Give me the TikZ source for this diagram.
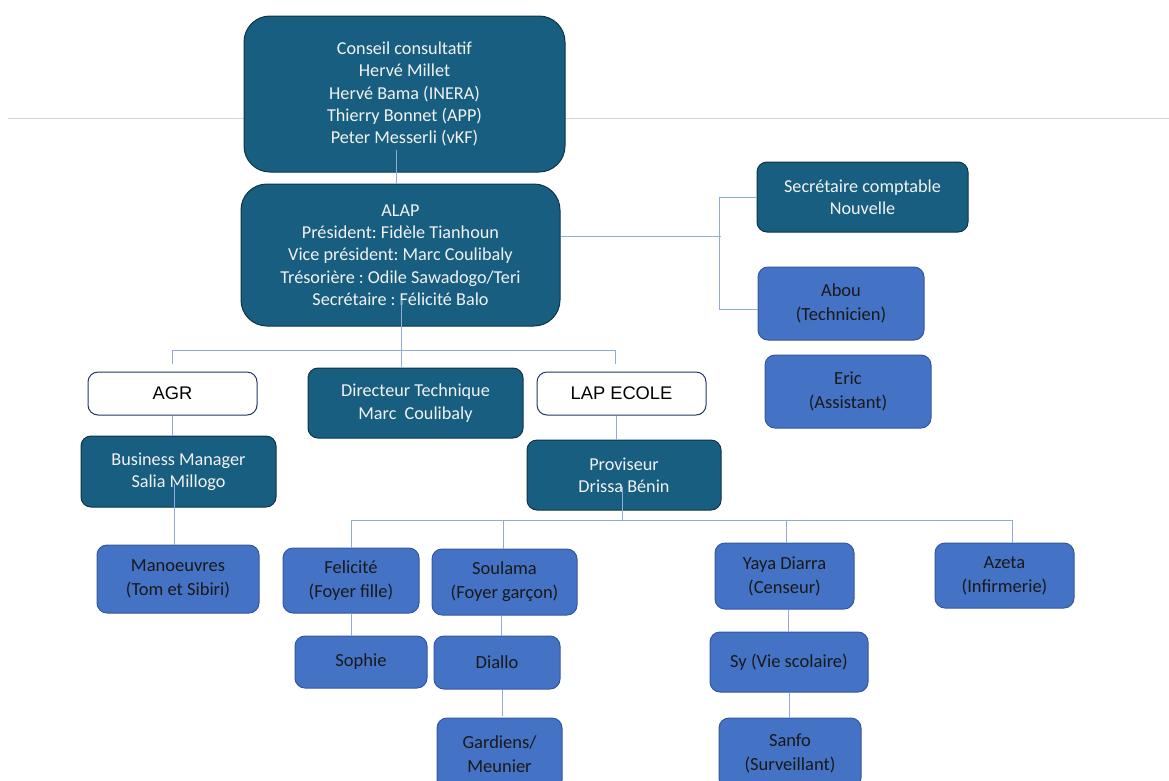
\documentclass[tikz,border=0pt]{standalone}
\usepackage{fontspec}
\setmainfont{Carlito}
\newfontfamily\arialf{Liberation Sans}
\frenchspacing
\definecolor{teal}{RGB}{23,94,128}
\definecolor{tealedge}{RGB}{16,52,70}
\definecolor{bluefill}{RGB}{68,114,196}
\definecolor{blueedge}{RGB}{52,88,160}
\definecolor{connc}{RGB}{143,170,220}
\definecolor{greyline}{RGB}{212,212,212}
\definecolor{whitetxt}{RGB}{242,242,242}
\definecolor{navyedge}{RGB}{32,56,100}
\tikzset{
  box/.style={rectangle, rounded corners=10pt, align=center, inner sep=0pt, line width=1pt},
  darkbox/.style={box, fill=teal, draw=tealedge, text=whitetxt, font=\fontsize{18.2}{22.3}\selectfont},
  bluebox/.style={box, fill=bluefill, draw=blueedge, text=black!90, font=\fontsize{18.5}{24}\selectfont},
  whitebox/.style={box, fill=white, draw=navyedge, text=black, font=\arialf\fontsize{18.3}{20}\selectfont},
  conn/.style={draw=connc, line width=0.9pt},
}
\begin{document}
\begin{tikzpicture}[x=1pt,y=1pt]
\clip (0,0) rectangle (1169,-780);
\fill[white] (0,0) rectangle (1169,-780);
\draw[greyline, line width=1pt] (8,-118) -- (1169,-118);

% nodes
\node[darkbox, rounded corners=26pt, minimum width=321pt, minimum height=156pt] (conseil) at (404.5,-94)
  {Conseil consultatif\\Hervé Millet\\Hervé Bama (INERA)\\Thierry Bonnet (APP)\\Peter Messerli (vKF)};
\node[darkbox, rounded corners=26pt, minimum width=319pt, minimum height=142pt] (alap) at (400.5,-255)
  {ALAP\\Président: Fidèle Tianhoun\\Vice président: Marc Coulibaly\\Trésorière : Odile Sawadogo/Teri\\Secrétaire : Félicité Balo};
\node[darkbox, minimum width=211pt, minimum height=70pt] (secr) at (862.5,-197)
  {Secrétaire comptable\\Nouvelle};
\node[bluebox, minimum width=166pt, minimum height=73pt] (abou) at (841,-303.5)
  {Abou\\(Technicien)};
\node[bluebox, minimum width=166pt, minimum height=73pt] (eric) at (848,-391.5)
  {Eric\\(Assistant)};
\node[whitebox, minimum width=169pt, minimum height=43pt] (agr) at (172.5,-393.5) {AGR};
\node[darkbox, minimum width=215pt, minimum height=70pt] (dir) at (415.5,-403)
  {Directeur Technique\\Marc~~Coulibaly};
\node[whitebox, minimum width=169pt, minimum height=43pt] (lap) at (621.5,-393.5) {LAP ECOLE};
\node[darkbox, minimum width=195pt, minimum height=71pt] (bm) at (178.5,-471.5)
  {Business Manager\\Salia Millogo};
\node[bluebox, minimum width=162pt, minimum height=68pt] (man) at (178,-579)
  {Manoeuvres\\(Tom et Sibiri)};
\node[darkbox, minimum width=194pt, minimum height=70pt] (prov) at (624,-475)
  {Proviseur\\Drissa Bénin};
\node[bluebox, minimum width=136pt, minimum height=65pt] (fel) at (351,-580.5)
  {Felicité\\(Foyer fille)};
\node[bluebox, minimum width=145pt, minimum height=66pt] (soul) at (504.5,-582)
  {Soulama\\(Foyer garçon)};
\node[bluebox, minimum width=139pt, minimum height=66pt] (yaya) at (784.5,-576)
  {Yaya Diarra\\(Censeur)};
\node[bluebox, minimum width=139pt, minimum height=65pt] (azeta) at (1004.5,-575.5)
  {Azeta\\(Infirmerie)};
\node[bluebox, minimum width=132pt, minimum height=52pt] (sophie) at (361,-662) {Sophie};
\node[bluebox, minimum width=126pt, minimum height=53pt] (diallo) at (497,-662.5) {Diallo};
\node[bluebox, minimum width=125pt, minimum height=72pt] (gard) at (499.5,-754)
  {Gardiens/\\Meunier};
\node[bluebox, minimum width=158pt, minimum height=60pt] (sy) at (789,-662) {Sy (Vie scolaire)};
\node[bluebox, minimum width=142pt, minimum height=70pt] (sanfo) at (790,-753)
  {Sanfo\\(Surveillant)};

% connectors
\draw[conn] ([xshift=-4.5pt]alap.north) -- ++(0,34pt);
\draw[conn] ([yshift=19pt]alap.east) -- ++(160pt,0);
\draw[conn] (secr.west) -| ([xshift=-38pt,yshift=-5.5pt]abou.west) -- ([yshift=-5.5pt]abou.west);
\draw[conn] ([xshift=-14.5pt]dir.north) -- ++(0,68pt);
\draw[conn] ([yshift=8pt]agr.north) -- ++(0,13pt) -| ([xshift=-6.5pt,yshift=8pt]lap.north);
\draw[conn] (agr.south) -- (agr.south |- bm.north);
\draw[conn] ([xshift=-4pt]man.north) -- ++(0,61pt);
\draw[conn] ([xshift=-5.5pt]lap.south) -- ([xshift=-5.5pt]lap.south |- prov.north);
\coordinate (pbus) at ([yshift=-10pt]prov.south -| 622,0);
\draw[conn] (pbus) -- ++(0,34pt);
\draw[conn] (fel.north) |- ([xshift=7.5pt]azeta.north |- pbus) -- ([xshift=7.5pt]azeta.north);
\draw[conn] ([xshift=-1.5pt]soul.north) -- ([xshift=-1.5pt]soul.north |- pbus);
\draw[conn] ([xshift=1.5pt]yaya.north) -- ([xshift=1.5pt]yaya.north |- pbus);
\draw[conn] (fel.south) -- (fel.south |- sophie.north);
\draw[conn] ([xshift=-3.5pt]soul.south) -- ([xshift=-3.5pt]soul.south |- diallo.north);
\draw[conn] ([xshift=5pt]diallo.south) -- ([xshift=5pt,yshift=-26pt]diallo.south);
\draw[conn] ([xshift=3.5pt]yaya.south) -- ([xshift=3.5pt]yaya.south |- sy.north);
\draw[conn] (sy.south) -- (sy.south |- sanfo.north);
\end{tikzpicture}
\end{document}
